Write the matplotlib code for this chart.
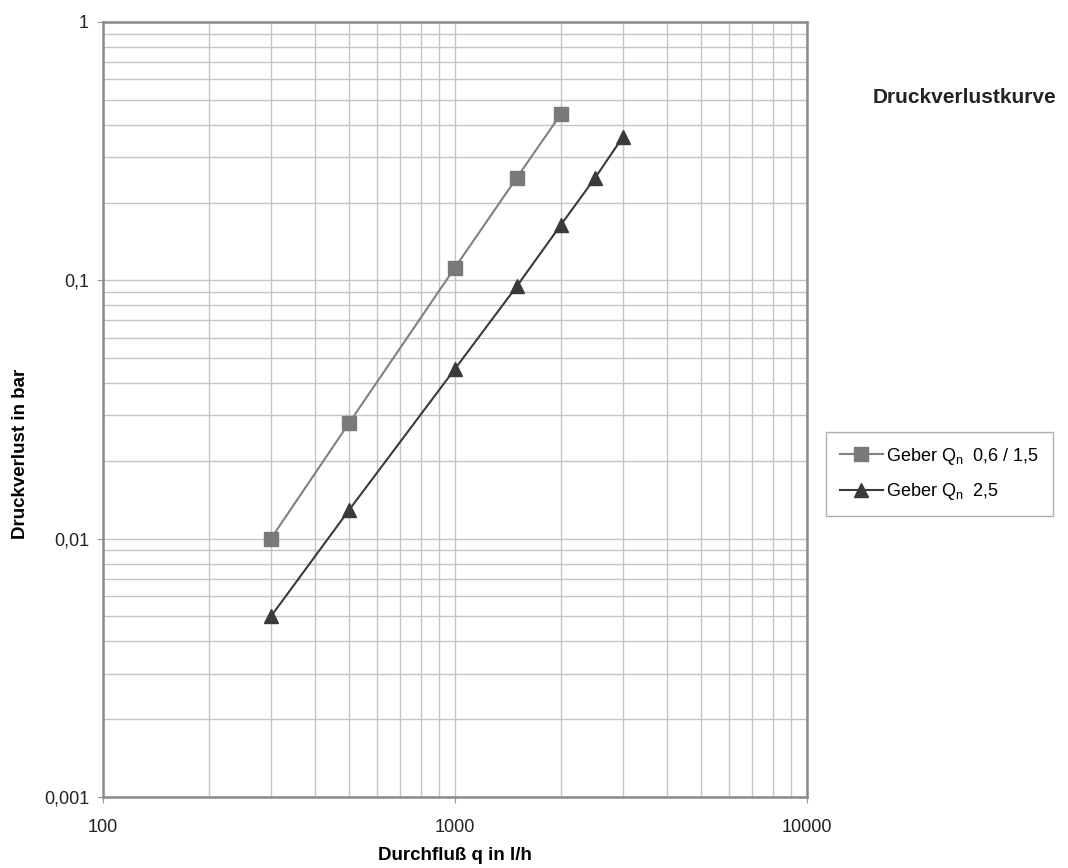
import matplotlib
matplotlib.use("Agg")
import matplotlib.pyplot as plt
from matplotlib.ticker import LogLocator, FixedLocator, FixedFormatter, NullFormatter

plt.rcParams['font.family'] = ['Liberation Sans', 'DejaVu Sans']

flow_a = [300, 500, 1000, 1500, 2000]
loss_a = [0.010, 0.028, 0.112, 0.25, 0.44]
flow_b = [300, 500, 1000, 1500, 2000, 2500, 3000]
loss_b = [0.005, 0.0129, 0.0454, 0.095, 0.164, 0.249, 0.359]

x_ticks = [100, 1000, 10000]
x_labels = ["100", "1000", "10000"]
y_ticks = [0.001, 0.01, 0.1, 1]
y_labels = ["0,001", "0,01", "0,1", "1"]
label_a = r"Geber Q$_\mathregular{n}$  0,6 / 1,5"
label_b = r"Geber Q$_\mathregular{n}$  2,5"

fig = plt.figure(figsize=(10.68, 8.68), dpi=100)
ax = fig.add_axes([0.0964, 0.0818, 0.6592, 0.8929])
ax.set_xscale('log')
ax.set_yscale('log')
ax.set_xlim(100, 10000)
ax.set_ylim(0.001, 1)

grid_c = '#c4c4c4'
ax.xaxis.set_minor_locator(LogLocator(base=10, subs=range(2, 10)))
ax.yaxis.set_minor_locator(LogLocator(base=10, subs=range(2, 10)))
ax.xaxis.set_minor_formatter(NullFormatter())
ax.yaxis.set_minor_formatter(NullFormatter())
ax.grid(True, which='both', color=grid_c, linewidth=1.0)
ax.set_axisbelow(True)

ax.xaxis.set_major_locator(FixedLocator(x_ticks))
ax.xaxis.set_major_formatter(FixedFormatter(x_labels))
ax.yaxis.set_major_locator(FixedLocator(y_ticks))
ax.yaxis.set_major_formatter(FixedFormatter(y_labels))
ax.tick_params(which='minor', length=0)
ax.tick_params(which='major', length=4, color='#999999', labelsize=13, labelcolor='#222222')
ax.tick_params(axis='x', pad=12)
ax.tick_params(axis='y', pad=6)

for s in ax.spines.values():
    s.set_color('#8a8a8a')
    s.set_linewidth(1.8)

ax.plot(flow_a, loss_a, color='#808080', linewidth=1.5, marker='s', markersize=10,
        markerfacecolor='#7a7a7a', markeredgecolor='#7a7a7a', label=label_a)
ax.plot(flow_b, loss_b, color='#3a3a3a', linewidth=1.5, marker='^', markersize=10,
        markerfacecolor='#3a3a3a', markeredgecolor='#3a3a3a', label=label_b)

ax.set_xlabel("Durchfluß q in l/h", fontsize=13.5, fontweight='bold', labelpad=8)
ax.set_ylabel("Druckverlust in bar", fontsize=13.5, fontweight='bold')
ax.yaxis.set_label_coords(-0.105, 0.443)

fig.text(0.903, 0.8877, "Druckverlustkurve", fontsize=15, fontweight='bold',
         ha='center', va='center', color='#222222')

leg = fig.legend(loc='center', bbox_to_anchor=(0.8797, 0.454), fontsize=13,
                 frameon=True, fancybox=False, edgecolor='#999999',
                 handlelength=2.4, labelspacing=0.8, borderpad=0.75, handletextpad=0.2)
leg.get_frame().set_linewidth(1.0)

fig.savefig("out.png", dpi=100)
